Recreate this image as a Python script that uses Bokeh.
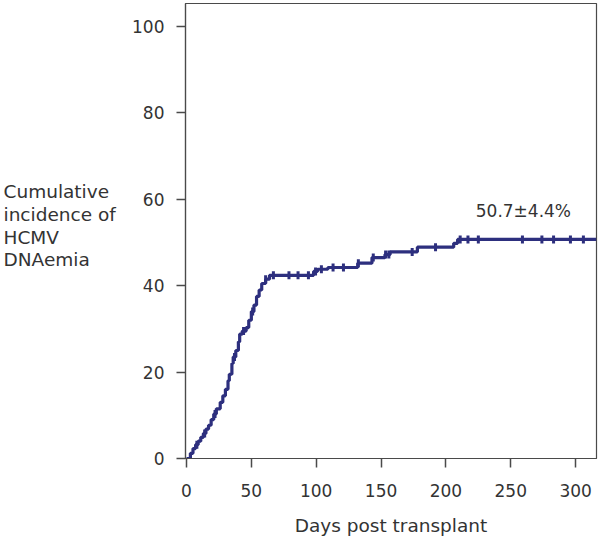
import numpy as np
from bokeh.plotting import figure
from bokeh.layouts import row
from bokeh.models import Range1d, Label, FixedTicker
from bokeh.core.properties import value
from bokeh.embed import file_html
from bokeh.resources import INLINE

# Kaplan-Meier style cumulative incidence (step changes)
event_days = [0, 3, 5, 7, 9, 11, 13, 15, 17, 19, 21, 23, 26, 28, 30, 32, 33, 35, 36, 38,
              40, 41, 43, 46, 48, 50, 52, 54, 56, 58, 61, 64, 98, 101, 109, 132, 143,
              153, 157, 178, 206, 209, 316]
incidence = [0, 1.2, 2.3, 3.2, 4.0, 4.9, 5.8, 6.8, 7.7, 9.0, 10.3, 11.5, 13.0, 14.5,
             16.0, 18.0, 19.5, 22.0, 23.5, 25.0, 27.0, 28.8, 29.5, 30.3, 32.0, 34.0,
             35.5, 37.5, 39.0, 40.5, 41.5, 42.4, 43.3, 43.8, 44.2, 45.2, 46.5, 47.2,
             47.8, 48.9, 49.8, 50.7, 50.7]
censor_days = [8, 14, 22, 37, 44, 51, 61, 67, 79, 86, 94, 99.5, 104, 113, 121, 132.5,
               144, 153.5, 156, 174, 192, 211, 217, 225, 259, 274, 283, 296, 306]
x_ticks = [0, 50, 100, 150, 200, 250, 300]
y_ticks = [0, 20, 40, 60, 80, 100]
final_label = "50.7±4.4%"
y_label = "Cumulative\nincidence of\nHCMV\nDNAemia"

LINE = "#2D2F7E"
AX = "#4a4a4a"
TXT = "#333333"
FONT = "DejaVu Sans"

# left panel holding the horizontal y-axis title (pixel coordinates)
lp = figure(width=125, height=540, output_backend="svg", toolbar_location=None,
            x_range=Range1d(0, 125), y_range=Range1d(540, 0),
            min_border_left=0, min_border_right=0, min_border_top=0, min_border_bottom=0)
lp.axis.visible = False
lp.grid.visible = False
lp.outline_line_color = None
lp.text(x=[3], y=[211], text=[y_label], text_font=value(FONT), text_font_size="18.5px",
        text_color=TXT, text_align="left", text_baseline="top", text_line_height=1.08)

p = figure(width=476, height=540, output_backend="svg", toolbar_location=None,
           x_range=Range1d(-0.77, 316.1), y_range=Range1d(0, 105.3),
           min_border_left=60, min_border_right=5, min_border_top=3, min_border_bottom=82)
p.grid.visible = False
p.outline_line_color = AX
p.outline_line_width = 1.2
p.background_fill_color = "white"
p.border_fill_color = "white"

p.step(event_days, incidence, mode="after", line_color=LINE, line_width=3.2)

ed = np.array(event_days)
inc = np.array(incidence)
cy = [inc[np.searchsorted(ed, d, side="right") - 1] for d in censor_days]
p.scatter(censor_days, cy, marker="dash", angle=np.pi / 2, size=8,
          line_color=LINE, line_width=3, fill_color=LINE)

for ax in (p.xaxis[0], p.yaxis[0]):
    ax.axis_line_color = AX
    ax.axis_line_width = 1.2
    ax.major_tick_line_color = AX
    ax.major_tick_line_width = 1.5
    ax.major_tick_out = 9
    ax.major_tick_in = 0
    ax.minor_tick_line_color = None
    ax.major_label_text_font = FONT
    ax.major_label_text_font_size = "17px"
    ax.major_label_text_color = TXT

p.xaxis.ticker = FixedTicker(ticks=x_ticks)
p.yaxis.ticker = FixedTicker(ticks=y_ticks)
p.xaxis.major_label_standoff = 16
p.yaxis.major_label_standoff = 12
p.xaxis.axis_label = "Days post transplant"
p.xaxis.axis_label_text_font = FONT
p.xaxis.axis_label_text_font_size = "18.5px"
p.xaxis.axis_label_text_font_style = "normal"
p.xaxis.axis_label_text_color = TXT
p.xaxis.axis_label_standoff = 15

p.add_layout(Label(x=223, y=55, text=final_label, text_font=FONT,
                   text_font_size="17px", text_color=TXT,
                   text_align="left", text_baseline="bottom"))

layout = row(lp, p, spacing=0)
open("out.html", "w").write(file_html(layout, INLINE))
